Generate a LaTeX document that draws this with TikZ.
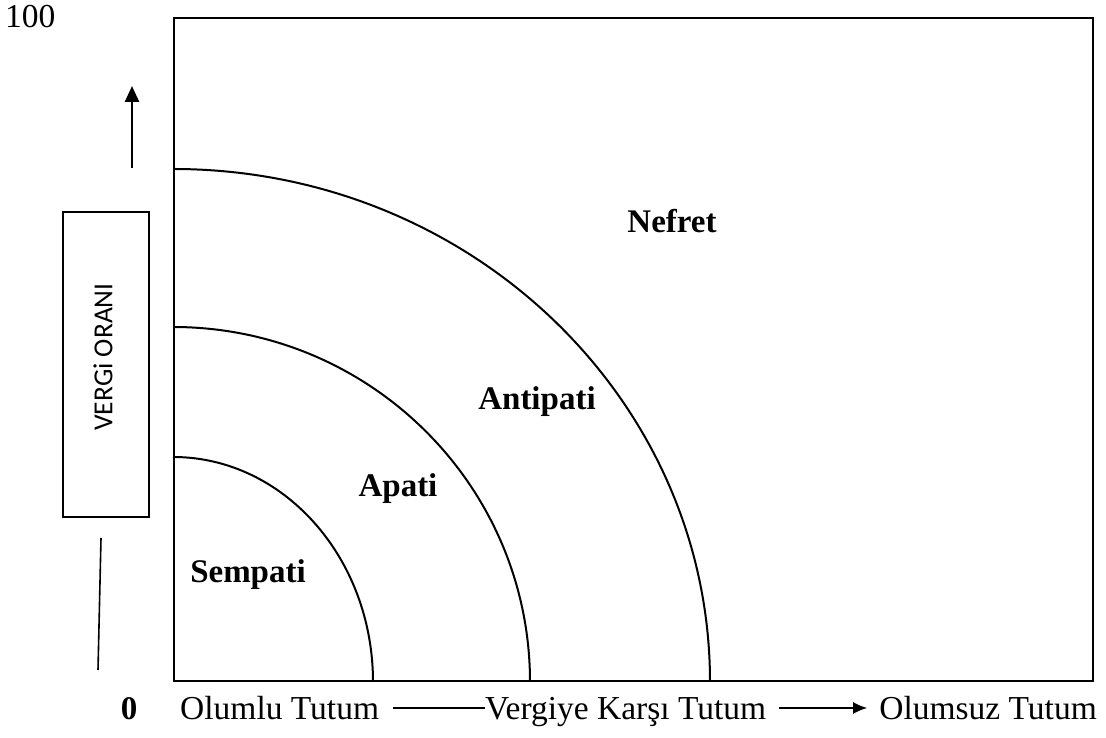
\documentclass[tikz,border=0pt]{standalone}
\usepackage{fontspec}
\setmainfont{Liberation Serif}
\newfontfamily\carl{Carlito}
\usetikzlibrary{arrows.meta}
\begin{document}
\begin{tikzpicture}[x=1pt,y=1pt,
  txt/.style={inner sep=0pt,font=\fontsize{33.5}{38}\selectfont},
  lbl/.style={inner sep=0pt,font=\fontsize{33}{38}\selectfont\bfseries},
  frame/.style={line width=2.4pt},
  curve/.style={line width=2pt}]
\useasboundingbox (0,0) rectangle (1106,738);
% main frame
\node[frame,draw,inner sep=0pt,minimum width=919pt,minimum height=663pt,anchor=south west] (frm) at (173,56) {};
% arcs
\coordinate (o) at (173,56);
\draw[curve] (373,56) arc[start angle=0,end angle=90,x radius=200,y radius=225];
\draw[curve] (530,56) arc[start angle=0,end angle=90,x radius=357,y radius=355];
\draw[curve] (710,56) arc[start angle=0,end angle=90,x radius=537,y radius=513];
% region labels
\node[lbl,anchor=base] (nef) at (672,505) {Nefret};
\node[lbl,anchor=base] (ant) at (537,328) {Antipati};
\node[lbl,anchor=base] (apa) at (398,241) {Apati};
\node[lbl,anchor=base] (sem) at (248,155) {Sempati};
% axis labels
\node[txt,anchor=base west] (hund) at (5,710) {100};
\node[lbl,anchor=base] (zero) at (129,18) {0};
\node[txt,anchor=base west] (olumlu) at (180,18) {Olumlu Tutum};
\node[txt,anchor=base west] (vergiye) at (485,18) {Vergiye Karşı Tutum};
\node[txt,anchor=base east] (olumsuz) at (1097,18) {Olumsuz Tutum};
\draw[line width=1.5pt] ([shift={(14,12)}]olumlu.base east) -- ([shift={(0,12)}]vergiye.base west);
\draw[line width=1.5pt,-{Latex[length=14pt,width=12pt]}] ([shift={(13,12)}]vergiye.base east) -- ([shift={(-12,12)}]olumsuz.base west);
% vertical axis box
\node[draw,line width=1.8pt,inner sep=0pt,minimum width=86pt,minimum height=305pt,anchor=south west] (vbox) at (62,220) {};
\node[inner sep=0pt,rotate=90,font=\carl\fontsize{27.5}{32}\selectfont] (vtext) at (103,381) {VERGi ORANI};
\coordinate (upS) at (132,570);
\coordinate (upE) at (132,652);
\draw[line width=2.6pt,-{Triangle[length=16pt,width=14pt]}] (upS) -- (upE);
\coordinate (lnS) at (101,200);
\coordinate (lnE) at (98,68);
\draw[line width=1.6pt] (lnS) -- (lnE);
\end{tikzpicture}
\end{document}
